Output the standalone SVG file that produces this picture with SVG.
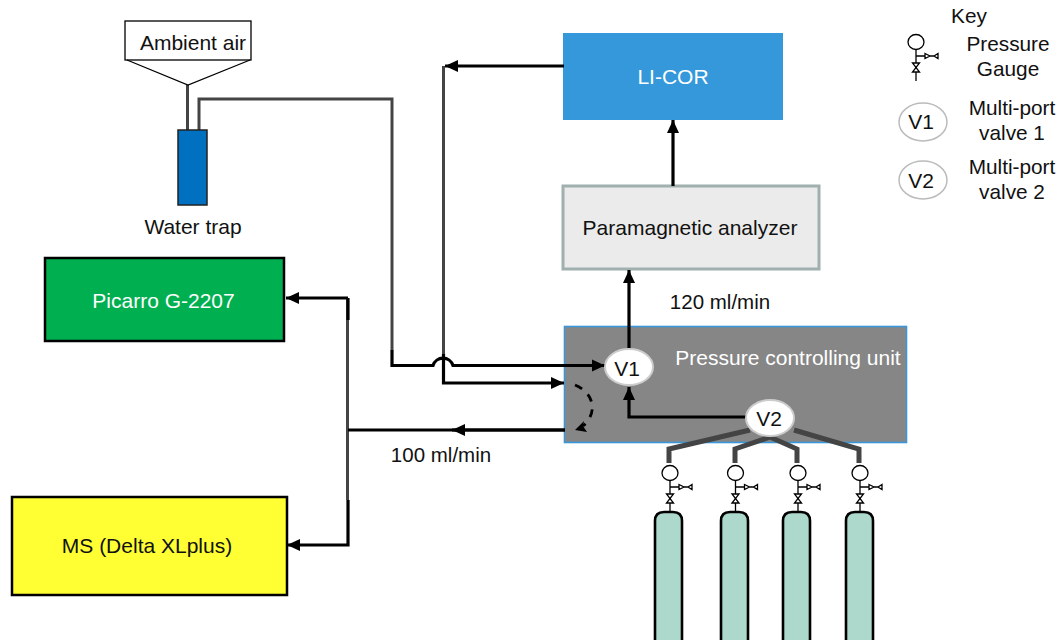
<svg xmlns="http://www.w3.org/2000/svg" width="1061" height="640" viewBox="0 0 1061 640">
<style>
text{font-family:"Liberation Sans",Arial,sans-serif;font-size:21px;fill:#111;text-anchor:middle}
.w{fill:#fff}
.k{font-size:20.800px}
.m{font-size:20.500px}
.p{fill:none;stroke:#000;stroke-width:3.200}
.g{fill:none;stroke:#444;stroke-width:3}
.t{fill:none;stroke:#444;stroke-width:5}
.bv{fill:#fff;stroke:#ccc;stroke-width:2}
.cyl{fill:#acd9cb;stroke:#000;stroke-width:2.600}
.th{fill:none;stroke:#000;stroke-width:1.300}
.o{fill:#fff;stroke:#000;stroke-width:1.300}
</style>
<defs>
<marker id="a" markerUnits="userSpaceOnUse" markerWidth="14" markerHeight="14" refX="13" refY="7" orient="auto"><path d="M0,1 L13,7 L0,13 Z" fill="#000"/></marker>
<g id="gauge">
<ellipse cx="0" cy="0" rx="8" ry="7.500" class="o"/>
<path d="M0,8V30M0,14H10" class="th"/>
<path d="M-3.500,21L3.500,21L-3.500,30L3.500,30Z" class="o"/>
<path d="M0,30V39" class="th"/>
<path d="M9,11.500L14,14L9,16.500ZM14,14H18M22,11.500L18,14L22,16.500Z" class="o"/>
</g>
</defs>

<g id="pcu"><rect x="564.500" y="326.500" width="342" height="116" fill="#868686" stroke="#3a96d8" stroke-width="1.600"/><text x="788" y="365" class="w">Pressure controlling unit</text></g>
<g id="licor"><rect x="563" y="33" width="220" height="87" fill="#3498db"/><text x="673" y="84" class="w">LI-COR</text></g>
<g id="para"><rect x="563" y="186" width="256" height="83" fill="#ebebeb" stroke="#9fb0ae" stroke-width="3"/><text x="690" y="235">Paramagnetic analyzer</text></g>
<g id="picarro"><rect x="45" y="258" width="239" height="83" fill="#00b050" stroke="#000" stroke-width="2.500"/><text x="163.500" y="308" class="w">Picarro G-2207</text></g>
<g id="ms"><rect x="12" y="497" width="275" height="98" fill="#ffff33" stroke="#000" stroke-width="2.500"/><text x="147" y="553">MS (Delta XLplus)</text></g>

<g id="connectors">
<path class="g" d="M187.500,85V130M199,130V99H392V350"/>
<path class="g" d="M443.500,66V355M347.500,298V500"/>
<path class="p" d="M392,350V365.500H433A10.500,10.500 0 0 1 453,365.500H605" marker-end="url(#a)"/>
<path class="p" d="M443.500,354V383H564" marker-end="url(#a)"/>
<path class="p" d="M565,430H348"/>
<path class="p" d="M565,430H452" marker-end="url(#a)"/>
<path class="p" d="M348,298V320M348,298H286" marker-end="url(#a)"/>
<path class="p" d="M348,500V545H287" marker-end="url(#a)"/>
<path class="p" d="M564,66H445" marker-end="url(#a)"/>
<path class="p" d="M673,186V120" marker-end="url(#a)"/>
<path class="p" d="M629,350V270" marker-end="url(#a)"/>
<path class="p" d="M748,417H629V387" marker-end="url(#a)"/>
<path fill="none" stroke="#000" stroke-width="2.800" stroke-dasharray="8 8" d="M575,385C590,391 596,405 590,417Q587,423 583,426"/>
<path d="M575,430L584,421L583,426L587,432Z" fill="#000"/>
<path class="t" d="M750,430L669,449V463M770,437L735,449V463M770,437L797,449V463M794,430L859,449V463"/>
</g>

<g id="v1"><ellipse cx="629" cy="367" rx="24" ry="18" class="bv"/><text x="627" y="376">V1</text></g>
<g id="v2"><ellipse cx="770" cy="418" rx="24" ry="18" class="bv"/><text x="769" y="426">V2</text></g>

<g id="air"><rect x="125" y="21" width="126" height="39" fill="#fff" stroke="#000" stroke-width="1.300"/><path d="M127,60L188,85L250,60" class="th"/><text x="193" y="50">Ambient air</text></g>
<g id="trap"><rect x="178" y="130" width="29" height="75" fill="#0070c0" stroke="#222" stroke-width="1.500"/><text x="193" y="234">Water trap</text></g>

<g id="cyl1"><use href="#gauge" x="670" y="473"/><path class="cyl" d="M655,640V521Q655,512 664,512H673Q682,512 682,521V640"/></g>
<g id="cyl2"><use href="#gauge" x="735.500" y="473"/><path class="cyl" d="M721,640V521Q721,512 730,512H739Q748,512 748,521V640"/></g>
<g id="cyl3"><use href="#gauge" x="798" y="473"/><path class="cyl" d="M783,640V521Q783,512 792,512H801Q810,512 810,521V640"/></g>
<g id="cyl4"><use href="#gauge" x="860" y="473"/><path class="cyl" d="M846,640V521Q846,512 855,512H864Q873,512 873,521V640"/></g>

<g id="key">
<text x="969" y="23" class="k">Key</text>
<use href="#gauge" x="916" y="42"/>
<text x="1008" y="51" class="k">Pressure</text><text x="1008" y="76" class="k">Gauge</text>
<ellipse cx="923" cy="122" rx="24" ry="19" fill="#fff" stroke="#bbb" stroke-width="1.500"/><text x="921" y="129">V1</text>
<text x="1012" y="115" class="k">Multi-port</text><text x="1012" y="140" class="k">valve 1</text>
<ellipse cx="923" cy="180" rx="24" ry="19" fill="#fff" stroke="#bbb" stroke-width="1.500"/><text x="921" y="188">V2</text>
<text x="1012" y="174" class="k">Multi-port</text><text x="1012" y="199" class="k">valve 2</text>
</g>
<text x="720" y="309" class="m">120 ml/min</text>
<text x="441" y="462" class="m">100 ml/min</text>
</svg>
